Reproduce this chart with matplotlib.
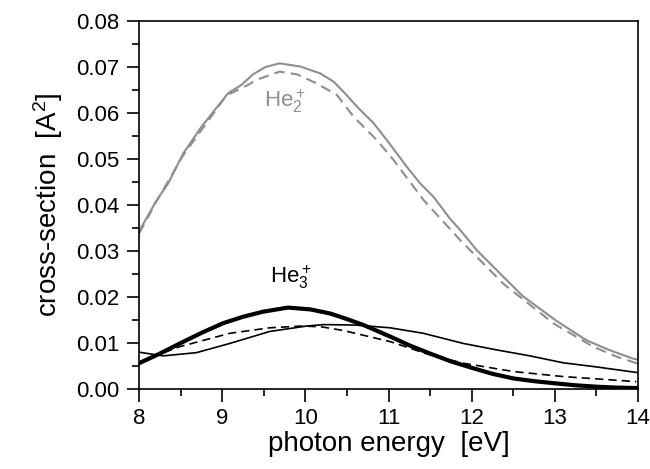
import numpy as np
import matplotlib
matplotlib.use("Agg")
from matplotlib import pyplot as plt
from matplotlib.ticker import MultipleLocator

plt.rcParams['font.family'] = ['Liberation Sans', 'DejaVu Sans']
plt.rcParams['mathtext.fontset'] = 'custom'
plt.rcParams['mathtext.rm'] = 'Liberation Sans'
plt.rcParams['mathtext.it'] = 'Liberation Sans'

# He2+ curves (gray)
he2_x = [8.0, 8.21, 8.35, 8.53, 8.75, 9.07, 9.23, 9.37, 9.52, 9.69, 9.94, 10.18, 10.34, 10.48,
         10.62, 10.82, 10.98, 11.22, 11.38, 11.54, 11.74, 11.86, 12.06, 12.38, 12.62, 12.9,
         13.02, 13.38, 13.65, 13.94, 14.0]
he2_solid = [0.0343, 0.041, 0.0447, 0.0512, 0.0570, 0.0643, 0.0661, 0.0684, 0.0700, 0.0708,
             0.0701, 0.0686, 0.0668, 0.0642, 0.0614, 0.0578, 0.0541, 0.0483, 0.0447, 0.0418,
             0.0370, 0.0346, 0.0302, 0.0244, 0.0201, 0.0164, 0.0148, 0.0106, 0.0085, 0.0066,
             0.0064]
he2_dash_x = [8.0, 8.21, 8.53, 8.77, 9.05, 9.31, 9.41, 9.69, 9.9, 10.14, 10.38, 10.58, 10.86,
              11.06, 11.42, 11.86, 12.38, 12.98, 13.46, 13.75, 14.0]
he2_dash = [0.0338, 0.0408, 0.0508, 0.0568, 0.0638, 0.0661, 0.0672, 0.0690, 0.0684, 0.0664,
            0.0639, 0.0592, 0.0541, 0.0498, 0.0411, 0.0324, 0.0229, 0.0143, 0.0092, 0.0070,
            0.0055]

# He3+ curves (black)
he3_thick_x = [8.0, 8.25, 8.49, 8.75, 9.01, 9.25, 9.49, 9.79, 10.06, 10.3, 10.5, 10.7, 11.02,
               11.25, 11.5, 11.75, 12.02, 12.25, 12.5, 12.75, 13.02, 13.25, 13.5, 13.75, 14.0]
he3_thick = [0.0056, 0.0077, 0.0099, 0.0122, 0.0143, 0.0157, 0.0168, 0.0177, 0.0173, 0.0164,
             0.0152, 0.0139, 0.0114, 0.0095, 0.0077, 0.0060, 0.0045, 0.0033, 0.0023, 0.0017,
             0.0012, 0.0008, 0.0005, 0.0003, 0.0002]
he3_thin_x = [8.0, 8.29, 8.69, 9.09, 9.57, 10.02, 10.22, 10.6, 11.02, 11.42, 11.9, 12.3,
              12.7, 13.1, 13.5, 13.98]
he3_thin = [0.0080, 0.0072, 0.0079, 0.0099, 0.0125, 0.0137, 0.0140, 0.0139, 0.0133, 0.0121,
            0.0099, 0.0085, 0.0072, 0.0057, 0.0048, 0.0036]
he3_dash_x = [8.0, 8.49, 9.09, 9.57, 9.97, 10.2, 10.46, 11.02, 11.5, 11.9, 12.5, 13.1, 13.98]
he3_dash = [0.0059, 0.0092, 0.0121, 0.0133, 0.0137, 0.0135, 0.0127, 0.0103, 0.0074, 0.0056,
            0.0038, 0.0027, 0.0016]

gray = '#8e8e8e'

fig = plt.figure(figsize=(6.5, 4.69), dpi=100)
ax = fig.add_axes([0.214, 0.1706, 0.7675, 0.7846])

ax.plot(he2_x, he2_solid, color=gray, lw=1.5)
ax.plot(he2_dash_x, he2_dash, color=gray, lw=1.5, dashes=(5, 3))
ax.plot(he3_thin_x, he3_thin, color='black', lw=1.2)
ax.plot(he3_dash_x, he3_dash, color='black', lw=1.2, dashes=(5, 3))
ax.plot(he3_thick_x, he3_thick, color='black', lw=3.0)

ax.text(9.5, 0.0625, r'He$_2^+$', color=gray, fontsize=16, va='center')
ax.text(9.57, 0.0243, r'He$_3^+$', color='black', fontsize=16, va='center')

ax.set_xlim(8, 14)
ax.set_ylim(0, 0.08)
ax.xaxis.set_major_locator(MultipleLocator(1))
ax.xaxis.set_minor_locator(MultipleLocator(0.5))
ax.yaxis.set_major_locator(MultipleLocator(0.01))
ax.yaxis.set_minor_locator(MultipleLocator(0.005))
ax.yaxis.set_major_formatter(plt.FormatStrFormatter('%.2f'))
ax.tick_params(which='major', direction='out', length=9, width=1.2, labelsize=16, pad=5)
ax.tick_params(which='minor', direction='out', length=5, width=1.2)
for s in ax.spines.values():
    s.set_linewidth(1.2)

ax.set_xlabel('photon energy  [eV]', fontsize=20, labelpad=1)
ax.set_ylabel(r'cross-section  [A$^2$]', fontsize=20, labelpad=8)

fig.savefig('out.png', dpi=100)
